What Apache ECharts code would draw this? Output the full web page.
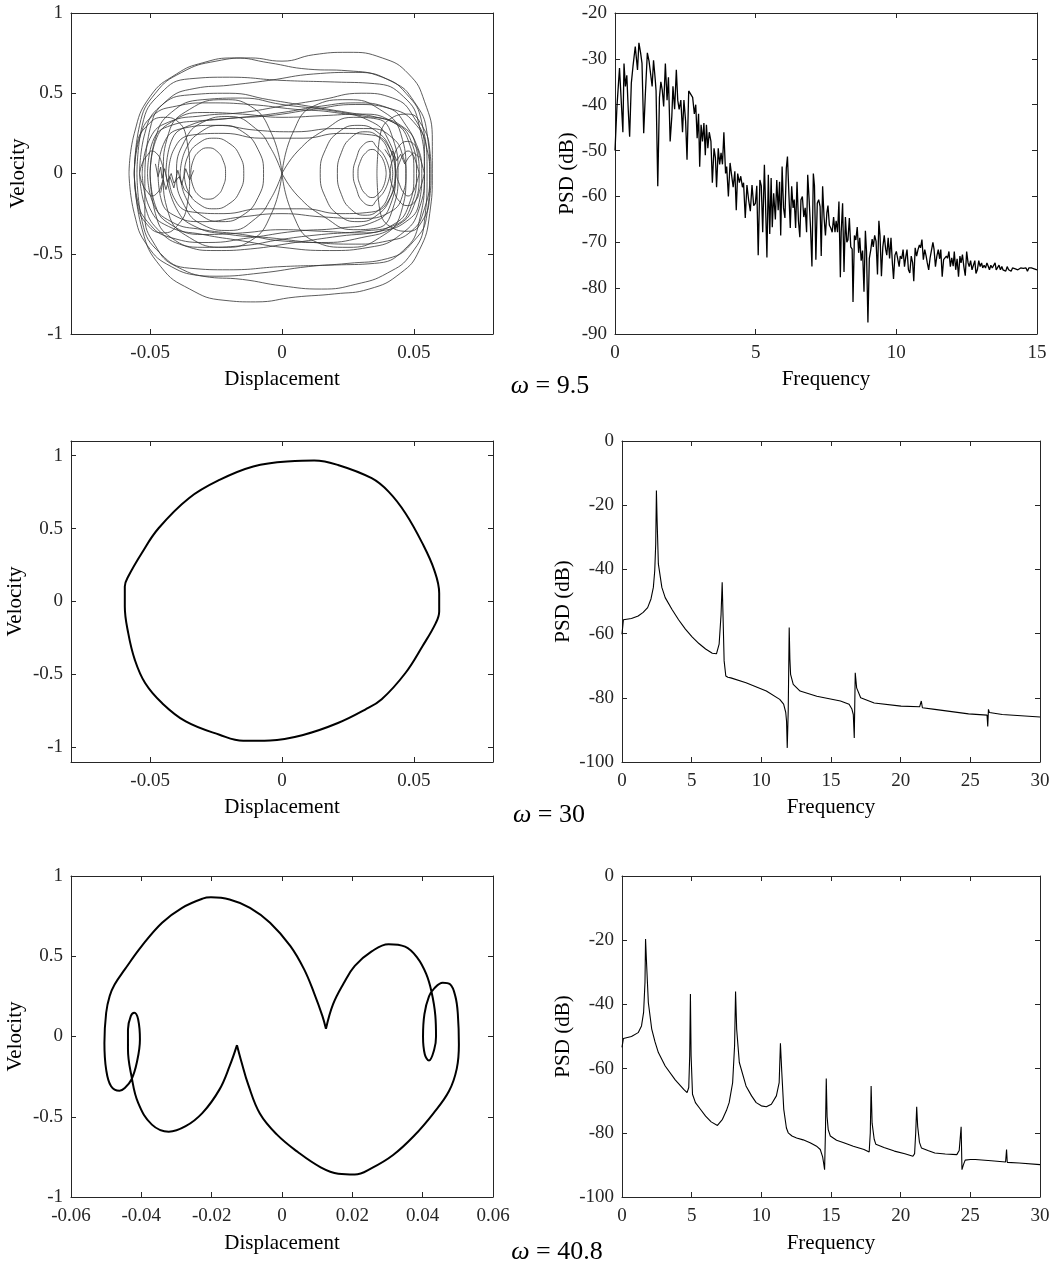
<!DOCTYPE html>
<html><head><meta charset="utf-8">
<script src="https://cdn.jsdelivr.net/npm/echarts@6/dist/echarts.min.js"></script>
<style>html,body{margin:0;padding:0;background:#fff}#c{width:1060px;height:1270px}</style>
</head><body><div id="c"></div>
<script>
// ---------- tick labels ----------
const xTicksPhaseA = [-0.05, 0, 0.05];
const xTicksPhaseC = [-0.06, -0.04, -0.02, 0, 0.02, 0.04, 0.06];
const yTicksPhase = [-1, -0.5, 0, 0.5, 1];
const xTicksPsdA = [0, 5, 10, 15];
const yTicksPsdA = [-90, -80, -70, -60, -50, -40, -30, -20];
const xTicksPsd = [0, 5, 10, 15, 20, 25, 30];
const yTicksPsd = [-100, -80, -60, -40, -20, 0];
const omegaLabels = ['9.5', '30', '40.8'];

// ---------- omega = 9.5 : phase portrait (chaotic, traced orbit loops) ----------
const orbitO1 = [[-0.056,0],[-0.054,0.3],[-0.048,0.5],[-0.038,0.63],[-0.025,0.7],[-0.012,0.72],[0,0.7],[0.012,0.74],[0.025,0.755],[0.038,0.72],[0.048,0.62],[0.054,0.45],[0.057,0.2],[0.057,0],[0.056,-0.25],[0.052,-0.48],[0.045,-0.62],[0.033,-0.72],[0.02,-0.75],[0.005,-0.77],[-0.01,-0.8],[-0.022,-0.79],[-0.035,-0.72],[-0.046,-0.58],[-0.053,-0.35],[-0.056,0]];
const orbitO2 = [[-0.058,0],[-0.056,0.25],[-0.05,0.48],[-0.04,0.62],[-0.03,0.69],[-0.018,0.72],[-0.005,0.69],[0.01,0.65],[0.025,0.64],[0.038,0.6],[0.047,0.5],[0.053,0.32],[0.055,0],[0.054,-0.3],[0.049,-0.5],[0.04,-0.62],[0.028,-0.69],[0.015,-0.72],[0,-0.7],[-0.015,-0.66],[-0.03,-0.64],[-0.042,-0.58],[-0.051,-0.45],[-0.056,-0.25],[-0.058,0]];
const orbitO3 = [[-0.052,0],[-0.05,0.28],[-0.044,0.45],[-0.033,0.53],[-0.02,0.55],[-0.005,0.58],[0.012,0.62],[0.028,0.63],[0.042,0.57],[0.05,0.45],[0.055,0.25],[0.056,0],[0.055,-0.25],[0.05,-0.42],[0.04,-0.53],[0.025,-0.56],[0.01,-0.58],[-0.008,-0.62],[-0.025,-0.64],[-0.04,-0.58],[-0.048,-0.45],[-0.052,-0.25],[-0.052,0]];
const orbitO4 = [[-0.055,0],[-0.053,0.3],[-0.046,0.5],[-0.035,0.59],[-0.02,0.6],[0,0.58],[0.02,0.57],[0.035,0.56],[0.046,0.48],[0.052,0.3],[0.054,0],[0.052,-0.3],[0.046,-0.48],[0.035,-0.56],[0.02,-0.57],[0,-0.58],[-0.02,-0.6],[-0.035,-0.59],[-0.046,-0.5],[-0.053,-0.3],[-0.055,0]];
const orbitT1 = [[-0.054,0],[-0.052,0.25],[-0.046,0.42],[-0.035,0.49],[-0.02,0.5],[-0.005,0.46],[0.01,0.42],[0.025,0.38],[0.036,0.35],[0.045,0.3],[0.051,0.18],[0.053,0],[0.052,-0.18],[0.047,-0.3],[0.037,-0.36],[0.022,-0.39],[0.005,-0.43],[-0.012,-0.47],[-0.025,-0.48],[-0.037,-0.45],[-0.047,-0.35],[-0.052,-0.2],[-0.054,0]];
const orbitT2 = [[-0.05,0],[-0.048,0.22],[-0.042,0.38],[-0.03,0.46],[-0.015,0.47],[0,0.43],[0.015,0.4],[0.03,0.36],[0.042,0.32],[0.049,0.2],[0.051,0],[0.049,-0.2],[0.043,-0.32],[0.03,-0.36],[0.015,-0.38],[0,-0.41],[-0.015,-0.45],[-0.03,-0.46],[-0.042,-0.4],[-0.048,-0.25],[-0.05,0]];
const orbitT3 = [[-0.053,0],[-0.05,0.22],[-0.043,0.32],[-0.03,0.36],[-0.015,0.38],[0,0.42],[0.015,0.46],[0.03,0.5],[0.042,0.47],[0.05,0.35],[0.054,0.15],[0.054,0],[0.052,-0.22],[0.045,-0.38],[0.033,-0.46],[0.018,-0.48],[0,-0.46],[-0.015,-0.42],[-0.03,-0.38],[-0.043,-0.33],[-0.05,-0.22],[-0.053,0]];
const orbitT4 = [[-0.051,0],[-0.049,0.2],[-0.042,0.3],[-0.03,0.33],[-0.015,0.35],[0,0.38],[0.015,0.42],[0.028,0.44],[0.04,0.41],[0.047,0.3],[0.051,0.15],[0.052,0],[0.05,-0.2],[0.043,-0.33],[0.03,-0.4],[0.015,-0.43],[0,-0.42],[-0.015,-0.38],[-0.03,-0.35],[-0.042,-0.3],[-0.049,-0.18],[-0.051,0]];
const orbitA1 = [[-0.056,0],[-0.054,0.22],[-0.049,0.36],[-0.04,0.42],[-0.028,0.44],[-0.012,0.43],[0.005,0.4],[0.02,0.38],[0.033,0.33],[0.04,0.22],[0.043,0],[0.041,-0.2],[0.035,-0.3],[0.022,-0.34],[0.005,-0.36],[-0.012,-0.4],[-0.028,-0.43],[-0.042,-0.4],[-0.051,-0.3],[-0.055,-0.15],[-0.056,0]];
const orbitA2 = [[-0.044,0],[-0.042,0.2],[-0.035,0.3],[-0.022,0.34],[-0.005,0.36],[0.012,0.4],[0.028,0.43],[0.042,0.4],[0.051,0.3],[0.055,0.15],[0.056,0],[0.054,-0.22],[0.049,-0.36],[0.04,-0.42],[0.028,-0.44],[0.012,-0.43],[-0.005,-0.4],[-0.02,-0.38],[-0.033,-0.33],[-0.04,-0.22],[-0.044,0]];
const orbitM1 = [[-0.05,0],[-0.048,0.2],[-0.042,0.32],[-0.03,0.38],[-0.015,0.37],[0,0.35],[0.015,0.36],[0.03,0.37],[0.042,0.32],[0.048,0.2],[0.05,0],[0.048,-0.2],[0.042,-0.32],[0.03,-0.37],[0.015,-0.36],[0,-0.35],[-0.015,-0.37],[-0.03,-0.38],[-0.042,-0.32],[-0.048,-0.2],[-0.05,0]];
const orbitM2 = [[-0.047,0],[-0.045,0.18],[-0.038,0.28],[-0.025,0.3],[-0.01,0.27],[0.005,0.26],[0.02,0.28],[0.033,0.28],[0.042,0.22],[0.046,0.1],[0.047,0],[0.046,-0.12],[0.041,-0.24],[0.03,-0.28],[0.015,-0.27],[0,-0.25],[-0.015,-0.27],[-0.03,-0.3],[-0.041,-0.26],[-0.046,-0.15],[-0.047,0]];
const orbitM3 = [[-0.043,0],[-0.041,0.15],[-0.034,0.24],[-0.022,0.25],[-0.008,0.22],[0.008,0.22],[0.022,0.25],[0.034,0.24],[0.041,0.15],[0.043,0],[0.041,-0.15],[0.034,-0.24],[0.022,-0.25],[0.008,-0.22],[-0.008,-0.22],[-0.022,-0.25],[-0.034,-0.24],[-0.041,-0.15],[-0.043,0]];
const orbitWL1 = [[-0.0346,0],[-0.0337,0.08],[-0.0313,0.139],[-0.028,0.16],[-0.0247,0.139],[-0.0223,0.08],[-0.0214,0],[-0.0223,-0.08],[-0.0247,-0.139],[-0.028,-0.16],[-0.0313,-0.139],[-0.0337,-0.08],[-0.0346,0]];
const orbitWL2 = [[-0.0371,0],[-0.0356,0.11],[-0.0315,0.19],[-0.0258,0.22],[-0.0202,0.19],[-0.016,0.11],[-0.0145,0],[-0.016,-0.11],[-0.0202,-0.19],[-0.0258,-0.22],[-0.0315,-0.19],[-0.0356,-0.11],[-0.0371,0]];
const orbitWL3 = [[-0.0386,0],[-0.0365,0.15],[-0.0307,0.26],[-0.0228,0.3],[-0.0149,0.26],[-0.0091,0.15],[-0.007,0],[-0.0091,-0.15],[-0.0149,-0.26],[-0.0228,-0.3],[-0.0307,-0.26],[-0.0365,-0.15],[-0.0386,0]];
const orbitWL4 = [[0,0],[-0.004,0.15],[-0.01,0.28],[-0.02,0.355],[-0.03,0.32],[-0.037,0.2],[-0.04,0],[-0.037,-0.2],[-0.03,-0.32],[-0.02,-0.355],[-0.01,-0.28],[-0.004,-0.15],[0,0]];
const orbitWL5 = [[0,0],[-0.004,0.25],[-0.012,0.42],[-0.022,0.46],[-0.035,0.4],[-0.043,0.25],[-0.045,0],[-0.043,-0.25],[-0.035,-0.4],[-0.022,-0.46],[-0.012,-0.42],[-0.004,-0.25],[0,0]];
const orbitWR1 = [[0.0395,0],[0.0386,0.075],[0.0363,0.13],[0.0342,0.15],[0.0318,0.13],[0.0297,0.075],[0.0288,0],[0.0297,-0.075],[0.0318,-0.13],[0.0342,-0.15],[0.0363,-0.13],[0.0386,-0.075],[0.0395,0]];
const orbitWR2 = [[0.041,0],[0.0391,0.1],[0.0355,0.173],[0.034,0.2],[0.0305,0.173],[0.0283,0.1],[0.027,0],[0.0283,-0.1],[0.0305,-0.173],[0.034,-0.2],[0.0355,-0.173],[0.0391,-0.1],[0.041,0]];
const orbitWR3 = [[0.042,0],[0.0405,0.13],[0.0368,0.225],[0.0315,0.26],[0.0263,0.225],[0.0225,0.13],[0.021,0],[0.0225,-0.13],[0.0263,-0.225],[0.0315,-0.26],[0.0368,-0.225],[0.0405,-0.13],[0.042,0]];
const orbitWR4 = [[0.043,0],[0.0411,0.15],[0.036,0.26],[0.0288,0.3],[0.0216,0.26],[0.0165,0.15],[0.0145,0],[0.0165,-0.15],[0.0216,-0.26],[0.0288,-0.3],[0.036,-0.26],[0.0411,-0.15],[0.043,0]];
const orbitWR5 = [[0,0],[0.006,0.14],[0.016,0.27],[0.027,0.35],[0.036,0.34],[0.042,0.22],[0.044,0],[0.042,-0.22],[0.036,-0.34],[0.027,-0.35],[0.016,-0.27],[0.006,-0.14],[0,0]];
const orbitWR6 = [[0,0],[0.004,0.25],[0.012,0.42],[0.025,0.46],[0.037,0.4],[0.045,0.25],[0.047,0],[0.045,-0.25],[0.037,-0.4],[0.025,-0.46],[0.012,-0.42],[0.004,-0.25],[0,0]];
const orbitFL1 = [[-0.054,0],[-0.0528,0.07],[-0.0507,0.121],[-0.0495,0.14],[-0.0473,0.121],[-0.0457,0.07],[-0.045,0],[-0.0457,-0.07],[-0.0473,-0.121],[-0.0495,-0.14],[-0.0507,-0.121],[-0.0528,-0.07],[-0.054,0]];
const orbitFL2 = [[-0.056,0],[-0.055,0.18],[-0.051,0.3],[-0.045,0.35],[-0.04,0.33],[-0.036,0.2],[-0.035,0],[-0.036,-0.2],[-0.04,-0.33],[-0.045,-0.37],[-0.051,-0.32],[-0.055,-0.18],[-0.056,0]];
const orbitFR1 = [[0.052,0],[0.0508,0.07],[0.0494,0.121],[0.0478,0.14],[0.0462,0.121],[0.0446,0.07],[0.0435,0],[0.0446,-0.07],[0.0462,-0.121],[0.0478,-0.14],[0.0494,-0.121],[0.0508,-0.07],[0.052,0]];
const orbitFR2 = [[0.054,0],[0.0523,0.1],[0.0505,0.173],[0.0475,0.2],[0.0445,0.173],[0.0423,0.1],[0.041,0],[0.0423,-0.1],[0.0445,-0.173],[0.0475,-0.2],[0.0505,-0.173],[0.0523,-0.1],[0.054,0]];
const orbitFR3 = [[0.036,0],[0.037,0.22],[0.042,0.35],[0.048,0.37],[0.053,0.3],[0.056,0.15],[0.0565,0],[0.056,-0.15],[0.053,-0.3],[0.048,-0.36],[0.042,-0.34],[0.037,-0.22],[0.036,0]];
const wiggleL1 = [[-0.048,0.06],[-0.047,-0.02],[-0.046,0.04],[-0.0455,-0.03],[-0.0445,0.03],[-0.0435,-0.05],[-0.042,0],[-0.041,-0.06],[-0.039,-0.02],[-0.037,-0.1],[-0.034,-0.15]];
const wiggleL2 = [[-0.046,-0.12],[-0.045,-0.04],[-0.044,-0.1],[-0.0425,-0.02],[-0.041,-0.09],[-0.0395,0.02],[-0.038,-0.07],[-0.0365,0.03],[-0.035,-0.04],[-0.0335,0.02]];
const wiggleR1 = [[0.039,0.15],[0.041,0.1],[0.042,0.14],[0.0435,0.08],[0.045,0.12],[0.0465,0.06],[0.048,0.1],[0.05,0.13],[0.052,0.1]];

// ---------- omega = 9.5 : PSD ----------
const psdA = [[0,-50],[0.07,-40.3],[0.16,-32],[0.22,-39],[0.28,-46],[0.32,-31],[0.37,-36],[0.42,-33.6],[0.47,-41],[0.52,-47],[0.58,-35.3],[0.64,-31.6],[0.72,-27.3],[0.77,-27],[0.8,-32.4],[0.85,-26.5],[0.91,-28.7],[0.96,-31],[1.02,-46.2],[1.08,-37.5],[1.15,-28.7],[1.21,-30.5],[1.27,-33.5],[1.32,-36],[1.37,-30.3],[1.43,-34.5],[1.46,-37],[1.52,-57.8],[1.58,-38.4],[1.63,-35],[1.68,-36.8],[1.73,-40.4],[1.79,-31],[1.85,-39],[1.9,-34],[1.96,-48],[2.02,-42.5],[2.06,-36],[2.12,-41],[2.18,-32.4],[2.23,-39],[2.28,-41],[2.34,-39],[2.4,-46],[2.45,-39],[2.51,-43.6],[2.56,-52],[2.62,-37],[2.69,-37.3],[2.76,-38.4],[2.82,-42],[2.87,-40],[2.92,-47.3],[2.97,-42],[3.01,-53.5],[3.06,-44.4],[3.11,-48],[3.16,-44],[3.21,-51],[3.25,-44.4],[3.3,-49.5],[3.35,-46],[3.41,-48],[3.46,-57],[3.52,-49.5],[3.57,-51.6],[3.61,-58],[3.67,-49.5],[3.72,-53],[3.77,-50.5],[3.82,-53],[3.87,-46],[3.93,-55],[3.97,-53.5],[4.03,-60],[4.09,-52.7],[4.15,-52.4],[4.2,-58],[4.26,-54.5],[4.31,-63],[4.36,-55],[4.42,-57],[4.47,-55.6],[4.53,-58],[4.57,-57],[4.63,-64.7],[4.69,-57.5],[4.75,-60.8],[4.81,-63.2],[4.87,-57.5],[4.93,-62],[4.99,-61.5],
[5.04,-57.7],[5.09,-72.8],[5.15,-56.4],[5.2,-57.7],[5.25,-67.8],[5.31,-53.1],[5.35,-61.5],[5.4,-73.3],[5.45,-55.3],[5.5,-68.2],[5.55,-56],[5.59,-66.7],[5.64,-59.3],[5.7,-65],[5.75,-56.4],[5.8,-63],[5.85,-56.8],[5.89,-68.5],[5.94,-53.5],[5.99,-62.5],
[6.04,-64.7],[6.09,-53.8],[6.13,-51.3],[6.18,-59.3],[6.23,-66.9],[6.28,-57.8],[6.33,-62.5],[6.37,-60.7],[6.42,-66.9],[6.47,-56.8],[6.52,-65.3],[6.57,-68.9],[6.61,-60.7],[6.66,-60],[6.71,-64.5],[6.76,-62.5],[6.81,-67.8],[6.85,-55.3],[6.9,-60.7],[6.95,-66.9],[7,-75.3],
[7.05,-55],[7.09,-57.7],[7.14,-73.8],[7.19,-61.5],[7.24,-60.7],[7.29,-62.2],[7.33,-73],[7.38,-57.8],[7.43,-64.5],[7.48,-68.5],[7.53,-63.6],[7.57,-62],[7.62,-66.3],[7.67,-66.9],[7.72,-67.8],[7.77,-64.5],[7.82,-67.8],[7.86,-65.3],[7.91,-67.8],[7.96,-61.1],[8.01,-77.6],
[8.04,-67.8],[8.09,-61.5],[8.14,-76.5],[8.19,-64.5],[8.24,-70],[8.28,-69.5],[8.33,-64.7],[8.38,-71],[8.43,-71.5],[8.46,-83],[8.51,-68.5],[8.56,-69.5],[8.61,-66.7],[8.66,-72.3],[8.7,-69],[8.75,-74],[8.8,-71.8],[8.85,-80.8],[8.9,-67.5],[8.94,-72],[8.99,-87.5],[9.04,-73.5],
[9.09,-71.7],[9.14,-69.3],[9.18,-71],[9.23,-68.5],[9.28,-69.8],[9.33,-77],[9.38,-65.3],[9.42,-68.5],[9.47,-77.4],[9.52,-71],[9.57,-68.5],[9.62,-71.5],[9.66,-72.8],[9.71,-69],[9.76,-73.5],[9.81,-69],[9.86,-74.6],[9.9,-78],[9.95,-72.8],[10,-72],
[10.05,-71.6],[10.1,-75.3],[10.14,-73],[10.19,-73.6],[10.24,-71.6],[10.29,-75.3],[10.34,-73],[10.38,-71.6],[10.43,-76],[10.48,-76.7],[10.53,-73],[10.58,-74.5],[10.62,-78.5],[10.67,-71.2],[10.72,-73],[10.77,-71.6],[10.82,-70.6],[10.86,-71.2],[10.91,-69.4],[10.96,-73.8],[11.01,-71.6],
[11.06,-73],[11.1,-74.5],[11.15,-76],[11.2,-73.4],[11.25,-73],[11.3,-70],[11.34,-71.5],[11.39,-75.3],[11.44,-73],[11.49,-71.6],[11.54,-73.6],[11.58,-71.6],[11.63,-77.5],[11.68,-73.8],[11.73,-73.5],[11.78,-73],[11.82,-73.5],[11.87,-72],[11.92,-75.3],[11.97,-73.4],
[12.02,-75.2],[12.06,-72],[12.11,-76],[12.16,-73.6],[12.21,-77.5],[12.26,-73],[12.3,-74.5],[12.35,-72.7],[12.4,-75.3],[12.45,-77.3],[12.5,-72],[12.55,-74.5],[12.59,-75.3],[12.64,-74],[12.69,-76],[12.74,-75.6],[12.79,-74],[12.83,-76.8],[12.88,-76],[12.93,-74],
[12.98,-75.3],[13.03,-74.5],[13.07,-75.6],[13.12,-75],[13.17,-75.6],[13.22,-74.5],[13.27,-75.3],[13.31,-76],[13.36,-75],[13.41,-75.6],[13.46,-75.3],[13.51,-74.5],[13.55,-76],[13.6,-75.6],[13.65,-75],[13.7,-76],[13.75,-75.3],[13.79,-76],[13.84,-75.6],[13.89,-76.3],[13.94,-75.3],
[13.99,-76],[14.03,-75.6],[14.08,-76.3],[14.13,-75.6],[14.18,-76],[14.23,-75.8],[14.27,-75.6],[14.32,-76],[14.37,-75.8],[14.42,-75.6],[14.47,-76],[14.51,-75.7],[14.56,-76],[14.61,-75.6],[14.66,-76.3],[14.71,-75.6],[14.75,-76],[14.8,-75.6],[14.85,-76],[14.9,-75.8],[14.95,-76],[15,-76]];

// ---------- omega = 30 ----------
const phase30 = [[0.0019,0.959],[0.0122,0.966],[0.0212,0.936],[0.034,0.845],[0.0404,0.753],[0.0468,0.605],[0.0532,0.4],[0.0577,0.217],[0.0596,0.057],[0.0596,-0.068],[0.0583,-0.148],[0.0532,-0.308],[0.0468,-0.49],[0.0378,-0.67],[0.0314,-0.742],[0.0212,-0.833],[0.0083,-0.913],[-0.0045,-0.952],[-0.0147,-0.954],[-0.0237,-0.913],[-0.0365,-0.822],[-0.0455,-0.696],[-0.0519,-0.559],[-0.0558,-0.4],[-0.0583,-0.217],[-0.0596,-0.034],[-0.0596,0.103],[-0.0583,0.171],[-0.0532,0.331],[-0.0468,0.502],[-0.0353,0.708],[-0.0237,0.833],[-0.0109,0.925],[0.0019,0.959]];
const psd30 = [[0,-60.2],[0.1,-55.7],[0.68,-55.3],[1.16,-54.5],[1.52,-53.4],[1.84,-51.9],[2.08,-49.2],[2.25,-45.6],[2.35,-40.4],[2.42,-32.1],[2.47,-15.4],[2.52,-24.8],[2.61,-38.3],[2.86,-45.6],[3.1,-48.8],[3.58,-52.4],[4.06,-55.7],[4.55,-58.6],[5.03,-61],[5.52,-63.1],[6,-64.8],[6.48,-66.1],[6.78,-66.3],[6.97,-63.3],[7.11,-54],[7.19,-44],[7.26,-56],[7.33,-68.5],[7.45,-73.2],[7.6,-73.6],[7.81,-73.8],[8.9,-75.3],[10.36,-77.9],[11.32,-80.5],[11.6,-82],[11.75,-84.5],[11.81,-87.3],[11.86,-95.6],[11.93,-84],[12,-58.1],[12.05,-68],[12.1,-72.7],[12.29,-75.8],[12.78,-77.9],[13.98,-79.5],[15.68,-81],[16.3,-82],[16.5,-83.5],[16.6,-85.2],[16.67,-92.5],[16.74,-72.2],[16.84,-76.9],[17.13,-80],[18.1,-81.6],[20.03,-82.6],[21.36,-82.8],[21.48,-81],[21.56,-83.1],[22.45,-83.6],[24.87,-85],[26.2,-85.4],[26.25,-88.9],[26.3,-83.6],[26.37,-84.6],[27.29,-85.2],[30,-86]];

// ---------- omega = 40.8 ----------
const phase408a = [[0.0125,0.048],[0.0145,0.2],[0.0175,0.33],[0.0207,0.44],[0.0255,0.53],[0.0303,0.575],[0.035,0.56],[0.0385,0.49],[0.041,0.39],[0.0425,0.28],[0.0436,0.13],[0.0438,0],[0.0433,-0.08],[0.0418,-0.15],[0.0406,-0.11],[0.0401,0],[0.0405,0.14],[0.0418,0.25],[0.0433,0.3],[0.0457,0.335],[0.0478,0.325],[0.0493,0.25],[0.05,0.14],[0.0503,-0.05],[0.0497,-0.2],[0.0475,-0.34],[0.043,-0.48],[0.0375,-0.62],[0.0315,-0.74],[0.0255,-0.82],[0.0207,-0.86],[0.016,-0.855],[0.011,-0.815],[0.0045,-0.72],[-0.0015,-0.61],[-0.0063,-0.48],[-0.0096,-0.3],[-0.0115,-0.16],[-0.0128,-0.054]];
const phase408b = [[-0.0128,-0.054],[-0.0149,-0.185],[-0.0178,-0.331],[-0.0226,-0.476],[-0.0274,-0.559],[-0.0322,-0.593],[-0.037,-0.549],[-0.0409,-0.414],[-0.0428,-0.247],[-0.0438,-0.081],[-0.0438,0.044],[-0.043,0.127],[-0.042,0.148],[-0.0409,0.106],[-0.0404,-0.019],[-0.0413,-0.164],[-0.0428,-0.268],[-0.0447,-0.321],[-0.0462,-0.338],[-0.0486,-0.31],[-0.05,-0.206],[-0.0505,-0.04],[-0.05,0.148],[-0.049,0.252],[-0.0476,0.324],[-0.0447,0.418],[-0.0399,0.563],[-0.0341,0.709],[-0.0284,0.802],[-0.0226,0.859],[-0.0202,0.867],[-0.0149,0.854],[-0.0091,0.802],[-0.0034,0.709],[0.0024,0.563],[0.0063,0.418],[0.0091,0.272],[0.0115,0.127],[0.0125,0.048]];
const psd408 = [[0,-53.4],[0.1,-50.6],[0.68,-50],[1.16,-48.8],[1.4,-46.7],[1.55,-42.5],[1.65,-33.1],[1.69,-19.6],[1.77,-27.9],[1.89,-39.4],[2.13,-47.6],[2.37,-51.7],[2.61,-55],[3.1,-59.2],[3.82,-63.5],[4.43,-66.5],[4.67,-67.5],[4.79,-65.9],[4.86,-56],[4.91,-36.8],[4.96,-56],[5.06,-68],[5.27,-70.6],[5.6,-72.5],[6,-74.8],[6.4,-76.6],[6.85,-77.7],[7.21,-75.8],[7.5,-73],[7.69,-70.6],[7.94,-64.4],[8.08,-52.9],[8.15,-36],[8.23,-47.7],[8.42,-58.1],[8.9,-65.4],[9.3,-68.5],[9.63,-70.6],[10,-71.6],[10.36,-71.9],[10.72,-71.1],[11.08,-68.5],[11.28,-64.4],[11.37,-52.1],[11.47,-61.3],[11.61,-72.7],[11.8,-78.5],[11.93,-80],[12.2,-81],[12.53,-81.6],[13,-82.2],[13.5,-83.1],[14,-84.3],[14.23,-85.2],[14.4,-87.5],[14.47,-89.4],[14.54,-91.5],[14.6,-80],[14.66,-63.1],[14.72,-75],[14.8,-79],[14.95,-81],[15.4,-82.3],[15.92,-83.1],[16.6,-84.2],[17.37,-85.2],[17.74,-86],[17.82,-80],[17.88,-65.4],[17.95,-77],[18.1,-82],[18.22,-83.6],[18.8,-84.6],[19.55,-85.7],[20.3,-86.5],[20.88,-87.3],[21,-86.5],[21.08,-80],[21.15,-71.9],[21.22,-78],[21.35,-83],[21.49,-84.7],[22,-85.6],[22.45,-86.3],[23.2,-86.6],[24.03,-86.8],[24.2,-85.5],[24.34,-78.1],[24.4,-91.5],[24.5,-90],[24.63,-88.5],[25,-88.3],[25.36,-88.3],[26.5,-88.7],[27.53,-89.1],[27.6,-85.2],[27.65,-89.2],[28.5,-89.4],[30,-89.9]];

// ---------- build ----------
const FONT = '"Liberation Serif","Times New Roman",serif';
const AX = '#262626';
const grids = [
  {left:71, top:13, width:422, height:321},
  {left:615, top:13, width:422, height:321},
  {left:71, top:441, width:422, height:321},
  {left:622, top:441, width:418, height:321},
  {left:71, top:876, width:422, height:321},
  {left:622, top:876, width:418, height:321}
];
function axLine(){return {show:true,onZero:false,lineStyle:{color:AX,width:1}};}
function axTick(t){return {show:true,inside:true,length:5,customValues:t,lineStyle:{color:AX,width:1}};}
function xAxes(gi,min,max,ticks,name,gap){
  return [
    {type:'value',gridIndex:gi,min:min,max:max,position:'bottom',splitLine:{show:false},axisLine:axLine(),axisTick:axTick(ticks),
     name:name,nameLocation:'middle',nameGap:gap,nameTextStyle:{fontFamily:FONT,fontSize:21,color:'#000'},
     axisLabel:{show:true,customValues:ticks,fontFamily:FONT,fontSize:19,color:AX,margin:10,formatter:v=>String(v)}},
    {type:'value',gridIndex:gi,min:min,max:max,position:'top',splitLine:{show:false},axisLine:axLine(),axisTick:axTick(ticks),axisLabel:{show:false}}
  ];
}
function yAxes(gi,min,max,ticks,name,gap){
  return [
    {type:'value',gridIndex:gi,min:min,max:max,position:'left',splitLine:{show:false},axisLine:axLine(),axisTick:axTick(ticks),
     name:name,nameLocation:'middle',nameGap:gap,nameTextStyle:{fontFamily:FONT,fontSize:21,color:'#000'},
     axisLabel:{show:true,customValues:ticks,fontFamily:FONT,fontSize:19,color:AX,margin:8,formatter:v=>String(v)}},
    {type:'value',gridIndex:gi,min:min,max:max,position:'right',splitLine:{show:false},axisLine:axLine(),axisTick:axTick(ticks),axisLabel:{show:false}}
  ];
}
const xAxis = [].concat(
  xAxes(0,-0.08,0.08,xTicksPhaseA,'Displacement',35),
  xAxes(1,0,15,xTicksPsdA,'Frequency',35),
  xAxes(2,-0.08,0.08,xTicksPhaseA,'Displacement',35),
  xAxes(3,0,30,xTicksPsd,'Frequency',35),
  xAxes(4,-0.06,0.06,xTicksPhaseC,'Displacement',36),
  xAxes(5,0,30,xTicksPsd,'Frequency',36)
);
const yAxis = [].concat(
  yAxes(0,-1,1,yTicksPhase,'Velocity',39),
  yAxes(1,-90,-20,yTicksPsdA,'PSD (dB)',35),
  yAxes(2,-1.1,1.1,yTicksPhase,'Velocity',45),
  yAxes(3,-100,0,yTicksPsd,'PSD (dB)',48),
  yAxes(4,-1,1,yTicksPhase,'Velocity',45),
  yAxes(5,-100,0,yTicksPsd,'PSD (dB)',48)
);
function line(gi,data,width,color,smooth){
  return {type:'line',xAxisIndex:2*gi,yAxisIndex:2*gi,data:data,showSymbol:false,symbol:'none',smooth:smooth,
    animation:false,silent:true,lineStyle:{color:color,width:width},emphasis:{disabled:true}};
}
const orbits = [orbitO1,orbitO2,orbitO3,orbitO4,orbitT1,orbitT2,orbitT3,orbitT4,orbitA1,orbitA2,orbitM1,orbitM2,orbitM3,
  orbitWL1,orbitWL2,orbitWL3,orbitWL4,orbitWL5,orbitWR1,orbitWR2,orbitWR3,orbitWR4,orbitWR5,orbitWR6,
  orbitFL1,orbitFL2,orbitFR1,orbitFR2,orbitFR3];
const wiggles = [wiggleL1,wiggleL2,wiggleR1];
const series = [];
orbits.forEach(o=>series.push(line(0,o,0.8,'#333',true)));
wiggles.forEach(o=>series.push(line(0,o,0.8,'#333',false)));
series.push(line(1,psdA,1.3,'#000',false));
series.push(line(2,phase30,2,'#000',0.4));
series.push(line(3,psd30,1.1,'#000',false));
series.push(line(4,phase408a,2,'#000',0.4));
series.push(line(4,phase408b,2,'#000',0.4));
series.push(line(5,psd408,1.1,'#000',false));

function omegaText(val,x,y){
  return {type:'text',x:x,y:y,silent:true,
    style:{text:'{w|ω} = '+val,rich:{w:{fontStyle:'italic',fontFamily:FONT,fontSize:26,fill:'#000'}},
      fontFamily:FONT,fontSize:26,fill:'#000',align:'center',verticalAlign:'middle',textAlign:'center',textVerticalAlign:'middle'}};
}
const chart = echarts.init(document.getElementById('c'),null,{renderer:'canvas'});
chart.setOption({
  animation:false,
  backgroundColor:'#fff',
  grid:grids,
  xAxis:xAxis,
  yAxis:yAxis,
  series:series,
  graphic:[omegaText(omegaLabels[0],550,386),omegaText(omegaLabels[1],549,815),omegaText(omegaLabels[2],557,1252)]
});
</script></body></html>
